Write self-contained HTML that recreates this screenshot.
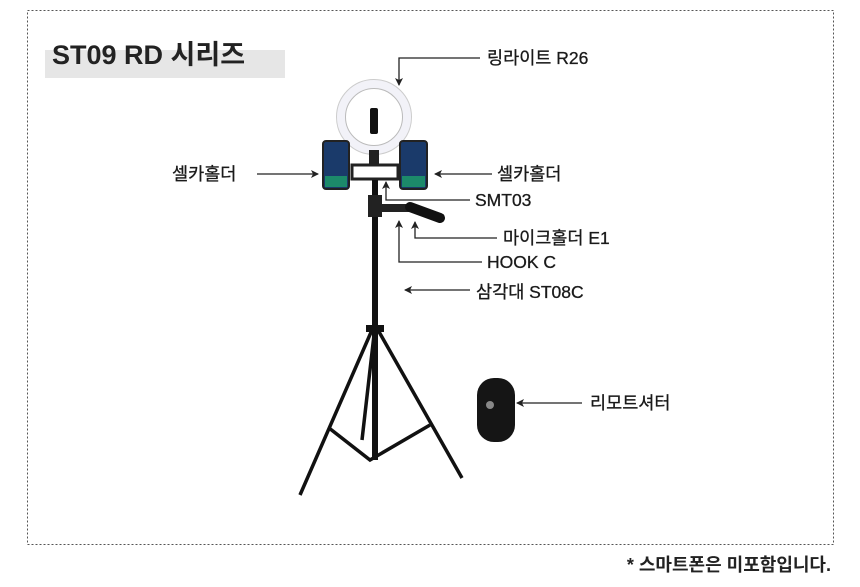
<!DOCTYPE html>
<html><head><meta charset="utf-8"><style>
body{margin:0;background:#fff;width:860px;height:587px;overflow:hidden;font-family:"Liberation Sans","Noto Sans CJK KR",sans-serif}
</style></head><body>
<svg width="860" height="587" xmlns="http://www.w3.org/2000/svg" style="position:absolute;left:0;top:0">
<defs><marker id="a" markerWidth="8" markerHeight="8" refX="7" refY="4" orient="auto" markerUnits="userSpaceOnUse"><path d="M0,0 L8,4 L0,8 L2,4z" fill="#222"/></marker></defs>
<rect x="27.5" y="10.5" width="806" height="534" fill="none" stroke="#555" stroke-dasharray="2,2"/>
<rect x="45" y="50" width="240" height="28" fill="#e6e6e6"/>
<text x="52" y="64" font-size="27" font-weight="bold" fill="#222">ST09 RD 시리즈</text>
<circle cx="374" cy="117" r="33" fill="none" stroke="#f2f2f8" stroke-width="9"/>
<circle cx="374" cy="117" r="37.5" fill="none" stroke="#ccc" stroke-width="1"/>
<circle cx="374" cy="117" r="28.5" fill="none" stroke="#bbb" stroke-width="1"/>
<rect x="370" y="108" width="8" height="26" rx="2" fill="#111"/>
<rect x="352" y="165" width="46" height="14" fill="none" stroke="#222" stroke-width="3"/>
<rect x="369" y="150" width="10" height="15" fill="#222"/>
<rect x="323" y="141" width="26" height="48" rx="3" fill="#1a3a6a" stroke="#222" stroke-width="2"/>
<rect x="400" y="141" width="27" height="48" rx="3" fill="#1a3a6a" stroke="#222" stroke-width="2"/>
<rect x="325" y="176" width="22" height="11" fill="#1c8a6a"/>
<rect x="402" y="176" width="23" height="11" fill="#1c8a6a"/>
<rect x="372" y="180" width="6" height="280" fill="#111"/>
<rect x="368" y="195" width="14" height="22" fill="#222"/>
<rect x="380" y="204" width="30" height="8" fill="#222"/>
<path d="M410,207 L440,218" stroke="#111" stroke-width="10" stroke-linecap="round"/>
<path d="M372,330 L300,495 M378,330 L462,478 M374,335 L362,440" stroke="#111" stroke-width="3.5" fill="none"/>
<path d="M329,428 L370,460 L430,425" stroke="#111" stroke-width="3.5" fill="none"/>
<rect x="366" y="325" width="18" height="7" fill="#111"/>
<rect x="477" y="378" width="38" height="64" rx="17" fill="#151515"/>
<circle cx="490" cy="405" r="4" fill="#888"/>
<g stroke="#222" stroke-width="1.3" fill="none">
<path d="M480,58 L399,58 L399,85" marker-end="url(#a)"/>
<path d="M257,174 L318,174" marker-end="url(#a)"/>
<path d="M492,174 L435,174" marker-end="url(#a)"/>
<path d="M470,200 L386,200 L386,182" marker-end="url(#a)"/>
<path d="M497,238 L415,238 L415,222" marker-end="url(#a)"/>
<path d="M482,262 L399,262 L399,221" marker-end="url(#a)"/>
<path d="M470,290 L405,290" marker-end="url(#a)"/>
<path d="M582,403 L517,403" marker-end="url(#a)"/>
</g>
<g font-size="17.5" fill="#1a1a1a" stroke="#1a1a1a" stroke-width="0.3">
<text x="487" y="64">링라이트 R26</text>
<text x="172" y="180">셀카홀더</text>
<text x="497" y="180">셀카홀더</text>
<text x="475" y="206">SMT03</text>
<text x="503" y="244">마이크홀더 E1</text>
<text x="487" y="268">HOOK C</text>
<text x="476" y="298">삼각대 ST08C</text>
<text x="590" y="409">리모트셔터</text>
</g>
<text x="831" y="571" text-anchor="end" font-size="18" font-weight="bold" fill="#222">* 스마트폰은 미포함입니다.</text>
</svg>
</body></html>
